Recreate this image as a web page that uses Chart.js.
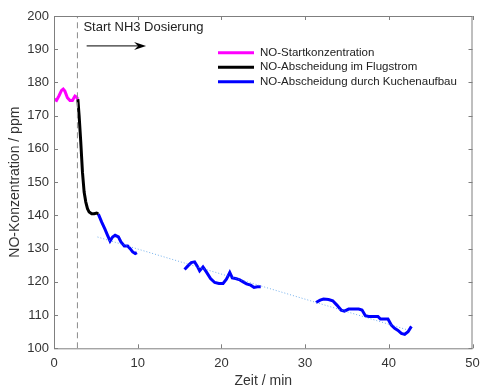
<!DOCTYPE html>
<html>
<head>
<meta charset="utf-8">
<script src="https://cdn.jsdelivr.net/npm/chart.js@4.4.1/dist/chart.umd.min.js"></script>
<style>
  html, body { margin: 0; padding: 0; background: #fff; }
  #wrap { width: 480px; height: 387px; }
</style>
</head>
<body>
<div id="wrap"><canvas id="noChart" width="480" height="387"></canvas></div>
<script>
// Startkonzentration (vor NH3)
const startTime = [0, 0.3, 0.6, 0.9, 1.1, 1.3, 1.6, 1.9, 2.2, 2.5, 2.7, 2.85];
const startNO = [175, 174.6, 176, 177.6, 178, 177.4, 175.4, 174.6, 174.6, 175.9, 175.6, 175];

// Abscheidung im Flugstrom
const flugTime = [2.85, 3.0, 3.2, 3.4, 3.6, 3.8, 4.0, 4.2, 4.5, 4.8, 5.1, 5.3];
const flugNO = [175, 170, 162, 153, 147, 144, 142, 141, 140.5, 140.5, 140.7, 140.4];

// Abscheidung durch Kuchenaufbau (null = Lücke)
const kuchenTime = [5.3, 5.7, 6.1, 6.4, 6.7, 7.0, 7.3, 7.7, 8.0, 8.4, 8.8, 9.1, 9.4, 9.7, 9.9,
    12,
    15.6, 16.0, 16.4, 16.8, 17.1, 17.4, 17.8, 18.2, 18.7, 19.2, 19.7, 20.2, 20.6, 21.0, 21.3, 21.7, 22.2, 22.6, 23.0, 23.5, 23.9, 24.3, 24.7,
    28,
    31.3, 31.8, 32.2, 32.8, 33.3, 33.8, 34.3, 34.7, 35.2, 35.8, 36.4, 36.8, 37.2, 37.6, 38.2, 38.7, 39.0, 39.5, 39.9, 40.3, 40.7, 41.1, 41.5, 41.9, 42.3, 42.7];
const kuchenNO = [140.4, 138, 135.8, 134, 132.3, 133.5, 134, 133.5, 132, 130.8, 130.8, 130, 129, 128.5, 128.8,
    null,
    123.7, 124.8, 125.8, 126, 124.8, 123.3, 124.5, 123, 121, 119.8, 119.5, 119.5, 120.8, 122.8, 121.2, 121, 120.6, 120, 119.4, 119, 118.3, 118.5, 118.5,
    null,
    113.8, 114.5, 114.8, 114.7, 114.3, 113, 111.5, 111.2, 111.8, 111.8, 111.8, 111.5, 109.8, 109.6, 109.6, 109.6, 108.8, 108.8, 108.8, 107, 106, 105.4, 104.5, 104.2, 105, 106.6];

// Trendlinie
const trendTime = [5.2, 42.3];
const trendNO = [133.5, 105.5];

// Start NH3 Dosierung
const doseTime = 2.8;

const xTicks = [0, 10, 20, 30, 40, 50];
const yTicks = [100, 110, 120, 130, 140, 150, 160, 170, 180, 190, 200];

const legendItems = [
    { label: 'NO-Startkonzentration', color: '#ff00ff' },
    { label: 'NO-Abscheidung im Flugstrom', color: '#000000' },
    { label: 'NO-Abscheidung durch Kuchenaufbau', color: '#0000ff' }
];

function toPoints(xs, ys) {
    return xs.map((x, i) => ({ x: x, y: ys[i] }));
}

const FONT = 'Liberation Sans, Arial, sans-serif';
const AXIS_COLOR = '#7f7f7f';
const TEXT_COLOR = '#333333';

// Rahmen, Ticks, Pfeil, Text und Legende
const decoPlugin = {
    id: 'deco',
    afterDraw(chart) {
        const ctx = chart.ctx;
        const xs = chart.scales.x;
        const ys = chart.scales.y;
        const a = chart.chartArea;
        ctx.save();

        // Rahmen
        ctx.strokeStyle = AXIS_COLOR;
        ctx.lineWidth = 1;
        ctx.strokeRect(a.left + 0.5, a.top + 0.5, a.right - a.left - 1, a.bottom - a.top);

        // Ticks nach innen
        const tl = 4;
        ctx.beginPath();
        xTicks.forEach(t => {
            const px = Math.round(xs.getPixelForValue(t)) + 0.5;
            ctx.moveTo(px, a.bottom); ctx.lineTo(px, a.bottom - tl);
            ctx.moveTo(px, a.top); ctx.lineTo(px, a.top + tl);
        });
        yTicks.forEach(t => {
            const py = Math.round(ys.getPixelForValue(t)) + 0.5;
            ctx.moveTo(a.left, py); ctx.lineTo(a.left + tl, py);
            ctx.moveTo(a.right, py); ctx.lineTo(a.right - tl, py);
        });
        ctx.stroke();

        // Text "Start NH3 Dosierung"
        ctx.fillStyle = '#222';
        ctx.font = '13px ' + FONT;
        ctx.textBaseline = 'middle';
        ctx.textAlign = 'left';
        ctx.fillText('Start NH3 Dosierung', xs.getPixelForValue(doseTime) + 6, ys.getPixelForValue(196.7));

        // Pfeil
        const ax0 = xs.getPixelForValue(3.9);
        const ax1 = xs.getPixelForValue(11.0);
        const ay = ys.getPixelForValue(191);
        ctx.strokeStyle = '#000';
        ctx.lineWidth = 1;
        ctx.beginPath();
        ctx.moveTo(ax0, ay); ctx.lineTo(ax1 - 4, ay);
        ctx.stroke();
        ctx.fillStyle = '#000';
        ctx.beginPath();
        ctx.moveTo(ax1, ay);
        ctx.lineTo(ax1 - 12, ay - 4);
        ctx.lineTo(ax1 - 8, ay);
        ctx.lineTo(ax1 - 12, ay + 4);
        ctx.closePath();
        ctx.fill();

        // Legende
        ctx.font = '11.5px ' + FONT;
        legendItems.forEach((item, i) => {
            const y = 52.7 + i * 14.5;
            ctx.strokeStyle = item.color;
            ctx.lineWidth = 3;
            ctx.beginPath();
            ctx.moveTo(218, y); ctx.lineTo(254, y);
            ctx.stroke();
            ctx.fillStyle = '#222';
            ctx.fillText(item.label, 260, y);
        });

        ctx.restore();
    }
};

const ctx = document.getElementById('noChart').getContext('2d');
new Chart(ctx, {
    type: 'line',
    data: {
        datasets: [
            {
                label: 'Start NH3 Dosierung',
                data: [{ x: doseTime, y: 100 }, { x: doseTime, y: 200 }],
                borderColor: '#8c8c8c',
                borderWidth: 1,
                borderDash: [6, 4],
                pointRadius: 0
            },
            {
                label: 'Trend',
                data: toPoints(trendTime, trendNO),
                borderColor: 'rgba(70, 150, 230, 0.75)',
                borderWidth: 1,
                borderDash: [1, 2],
                pointRadius: 0
            },
            {
                label: legendItems[0].label,
                data: toPoints(startTime, startNO),
                borderColor: '#ff00ff',
                borderWidth: 3,
                pointRadius: 0
            },
            {
                label: legendItems[1].label,
                data: toPoints(flugTime, flugNO),
                borderColor: '#000000',
                borderWidth: 3,
                pointRadius: 0
            },
            {
                label: legendItems[2].label,
                data: toPoints(kuchenTime, kuchenNO),
                borderColor: '#0000ff',
                borderWidth: 3,
                pointRadius: 0,
                spanGaps: false
            }
        ]
    },
    options: {
        responsive: false,
        animation: false,
        layout: { padding: { top: 16, right: 7.5, left: 0, bottom: 0 } },
        plugins: {
            legend: { display: false },
            tooltip: { enabled: false }
        },
        scales: {
            x: {
                type: 'linear',
                min: 0,
                max: 50,
                grid: { display: false, drawTicks: false },
                border: { display: false },
                ticks: {
                    stepSize: 10,
                    padding: 7,
                    color: TEXT_COLOR,
                    font: { family: FONT, size: 13 },
                    maxRotation: 0
                },
                title: {
                    display: true,
                    text: 'Zeit / min',
                    color: TEXT_COLOR,
                    font: { family: FONT, size: 14, lineHeight: 0.8 },
                    padding: 0
                },
                afterFit(scale) {
                    scale.height = 38.7;
                    scale.paddingLeft = 0;
                    scale.paddingRight = 0;
                }
            },
            y: {
                min: 100,
                max: 200,
                grid: { display: false, drawTicks: false },
                border: { display: false },
                ticks: {
                    stepSize: 10,
                    padding: 5,
                    color: TEXT_COLOR,
                    font: { family: FONT, size: 13 }
                },
                title: {
                    display: true,
                    text: 'NO-Konzentration / ppm',
                    color: TEXT_COLOR,
                    font: { family: FONT, size: 14, lineHeight: 1.2 },
                    padding: { top: 6.6, bottom: 0 }
                },
                afterFit(scale) {
                    scale.width = 54;
                    scale.paddingTop = 0;
                    scale.paddingBottom = 0;
                }
            }
        }
    },
    plugins: [decoPlugin]
});
</script>
</body>
</html>
